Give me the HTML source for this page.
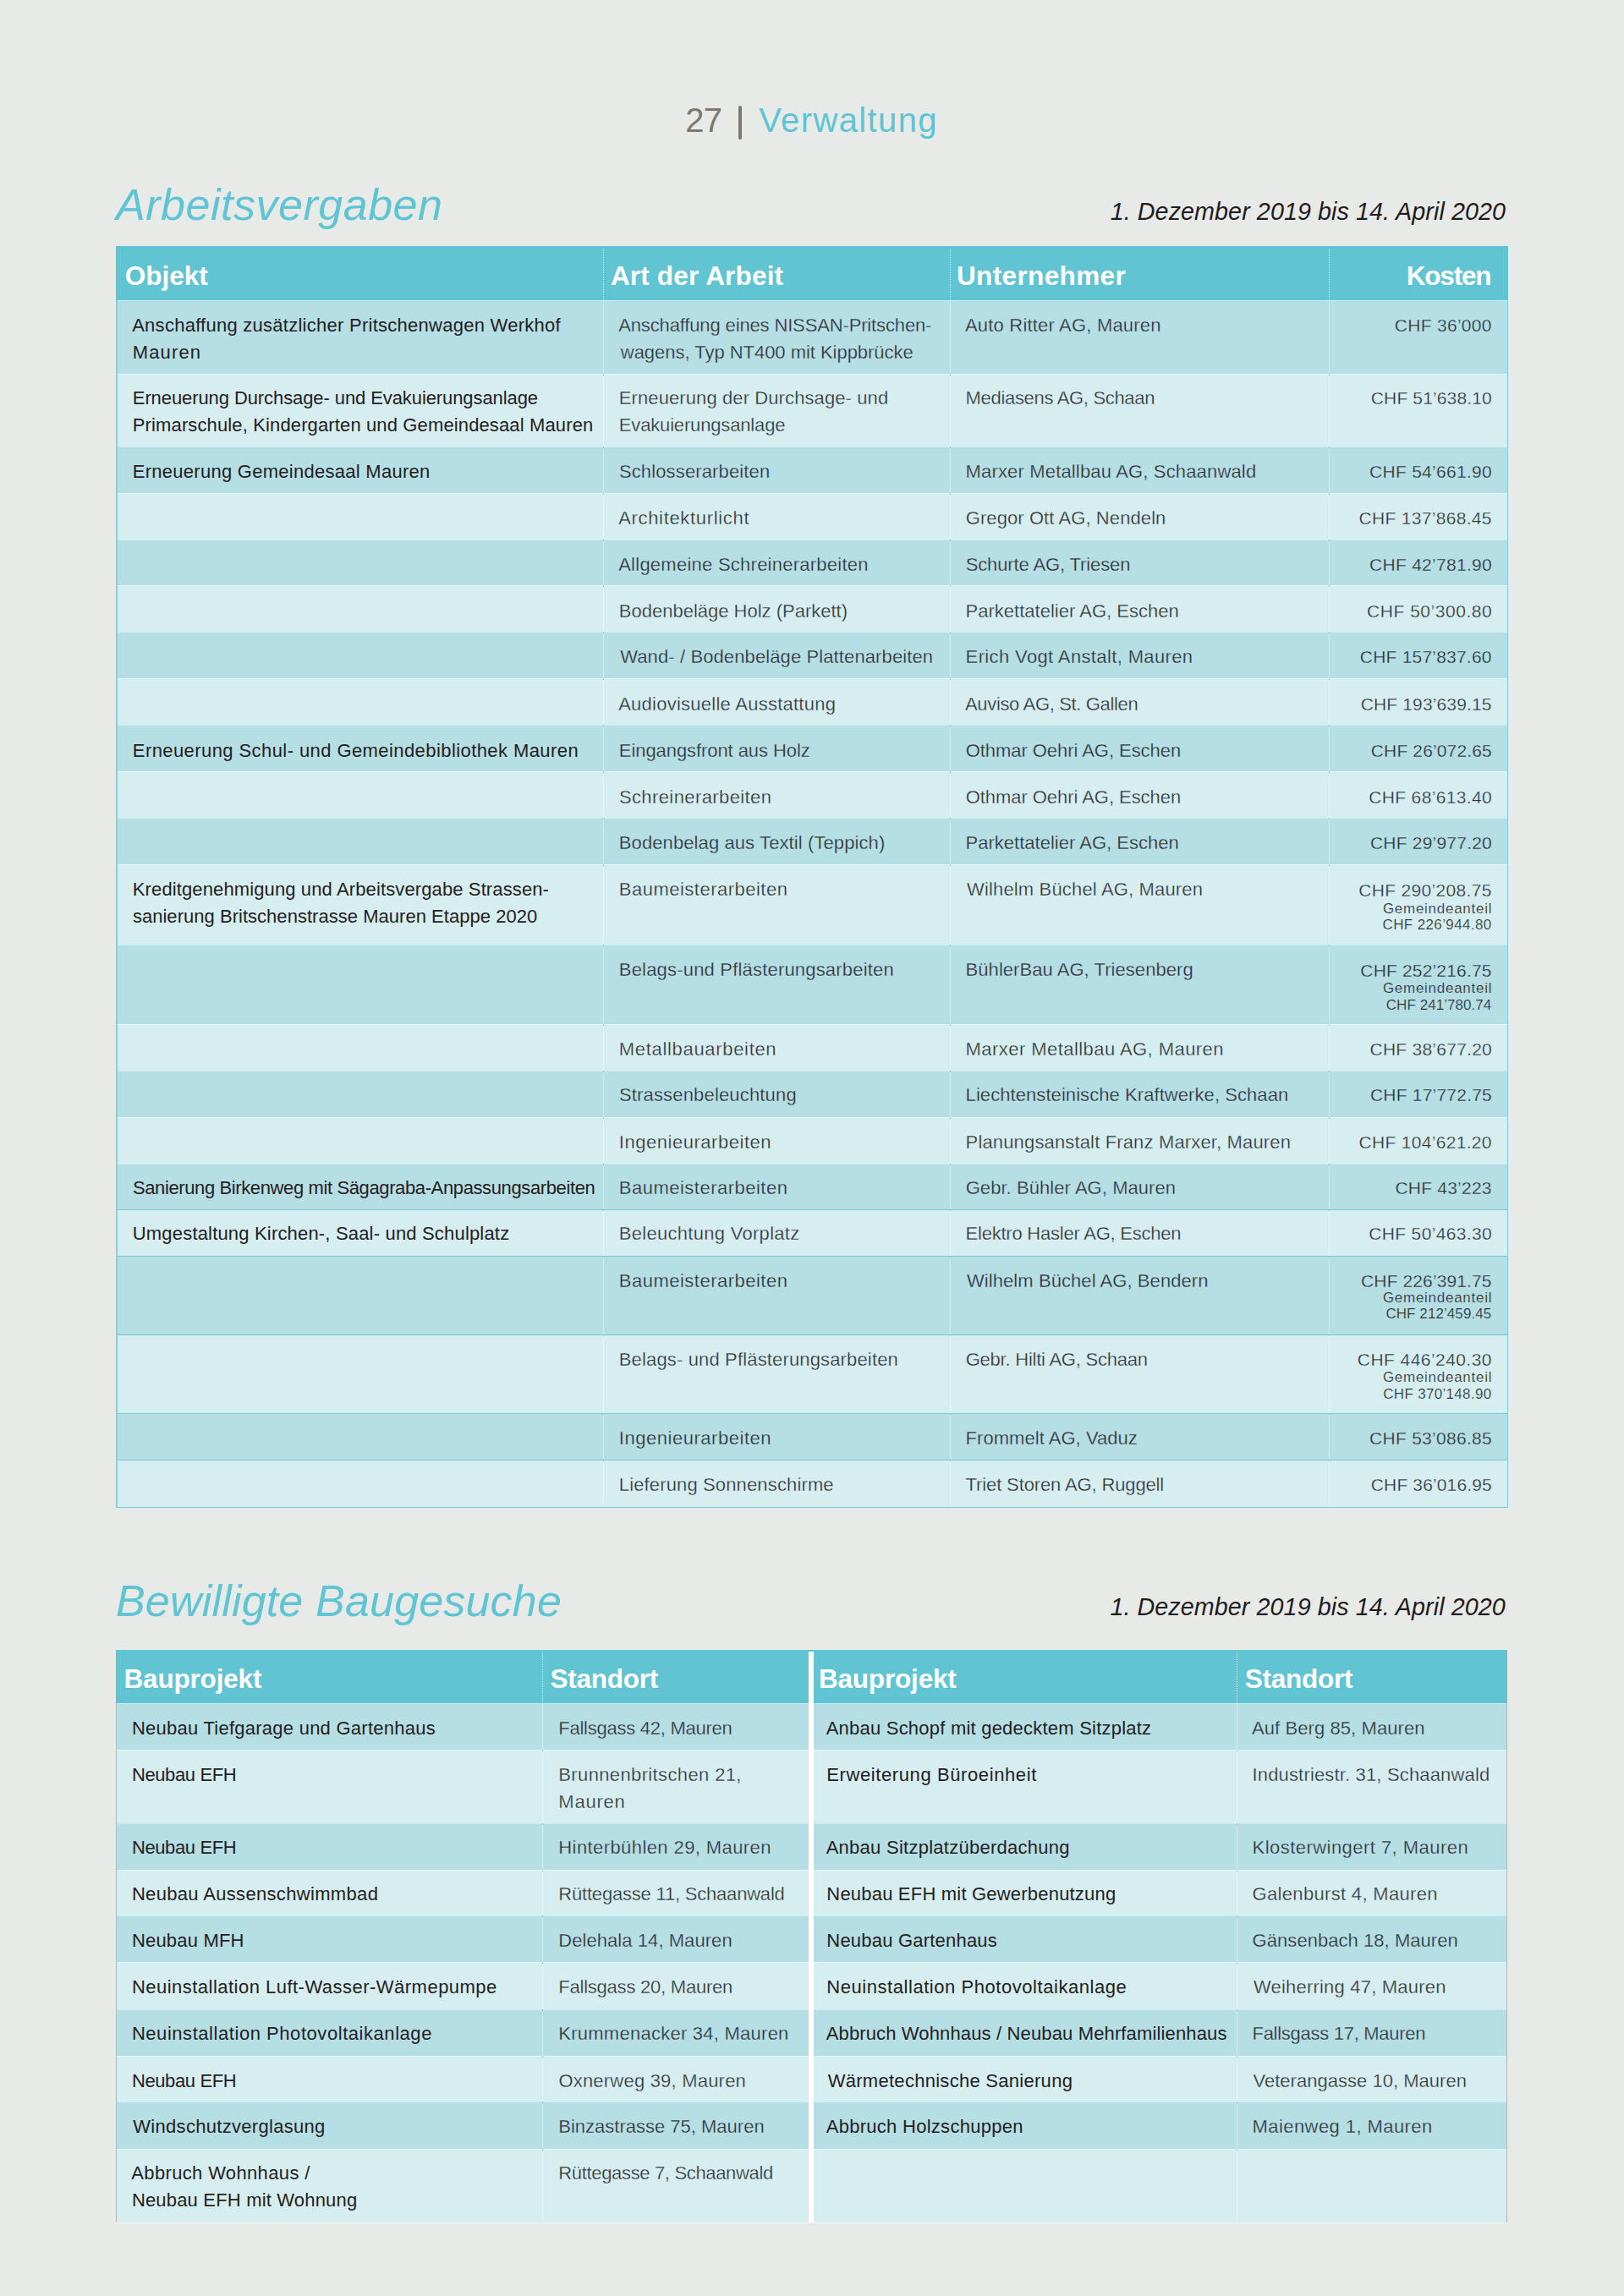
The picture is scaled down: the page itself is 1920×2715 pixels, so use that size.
<!DOCTYPE html>
<html lang="de"><head><meta charset="utf-8"><title>27 | Verwaltung</title>
<style>
html,body{margin:0;padding:0}
body{width:1920px;height:2715px;background:#e8eae7;position:relative;overflow:hidden;font-family:"Liberation Sans",sans-serif}
div,span,h1,h2,p,strong{position:absolute;display:block;white-space:nowrap;margin:0;padding:0;font-weight:normal}
strong{font-weight:bold}
</style></head><body>
<header>
<div style="left:873.3px;top:124.8px;width:4px;height:40.6px;background:#7d7873;border-radius:2px;"></div>
<span style="left:810.3px;top:118px;line-height:48px;font-size:40px;color:#7d7873;letter-spacing:-0.8px">27</span>
<h1 style="left:897.2px;top:118px;line-height:48px;font-size:40px;color:#5cc4d4;letter-spacing:1.39px">Verwaltung</h1>
</header>
<main>
<section aria-label="Arbeitsvergaben">
<div style="left:137px;top:291px;width:1646px;height:64px;background:#60c4d2;"></div>
<div style="left:137px;top:355px;width:1646px;height:87px;background:#b5dfe5;"></div>
<div style="left:137px;top:442px;width:1646px;height:86px;background:#d7eef0;"></div>
<div style="left:137px;top:528px;width:1646px;height:55px;background:#b5dfe5;"></div>
<div style="left:137px;top:583px;width:1646px;height:55px;background:#d7eef0;"></div>
<div style="left:137px;top:638px;width:1646px;height:54px;background:#b5dfe5;"></div>
<div style="left:137px;top:692px;width:1646px;height:55px;background:#d7eef0;"></div>
<div style="left:137px;top:747px;width:1646px;height:55px;background:#b5dfe5;"></div>
<div style="left:137px;top:802px;width:1646px;height:55px;background:#d7eef0;"></div>
<div style="left:137px;top:857px;width:1646px;height:55px;background:#b5dfe5;"></div>
<div style="left:137px;top:912px;width:1646px;height:55px;background:#d7eef0;"></div>
<div style="left:137px;top:967px;width:1646px;height:55px;background:#b5dfe5;"></div>
<div style="left:137px;top:1022px;width:1646px;height:95px;background:#d7eef0;"></div>
<div style="left:137px;top:1117px;width:1646px;height:94px;background:#b5dfe5;"></div>
<div style="left:137px;top:1211px;width:1646px;height:55px;background:#d7eef0;"></div>
<div style="left:137px;top:1266px;width:1646px;height:55px;background:#b5dfe5;"></div>
<div style="left:137px;top:1321px;width:1646px;height:55px;background:#d7eef0;"></div>
<div style="left:137px;top:1376px;width:1646px;height:54px;background:#b5dfe5;"></div>
<div style="left:137px;top:1430px;width:1646px;height:55px;background:#d7eef0;"></div>
<div style="left:137px;top:1485px;width:1646px;height:93px;background:#b5dfe5;"></div>
<div style="left:137px;top:1578px;width:1646px;height:93px;background:#d7eef0;"></div>
<div style="left:137px;top:1671px;width:1646px;height:55px;background:#b5dfe5;"></div>
<div style="left:137px;top:1726px;width:1646px;height:56px;background:#d7eef0;"></div>
<div style="left:137px;top:355px;width:1646px;height:1px;background:transparent;background:repeating-linear-gradient(90deg,rgba(255,255,255,.62) 0 1px,rgba(255,255,255,.18) 1px 2px);"></div>
<div style="left:137px;top:442px;width:1646px;height:1px;background:transparent;background:repeating-linear-gradient(90deg,rgba(255,255,255,.62) 0 1px,rgba(255,255,255,.18) 1px 2px);"></div>
<div style="left:137px;top:528px;width:1646px;height:1px;background:transparent;background:repeating-linear-gradient(90deg,rgba(255,255,255,.62) 0 1px,rgba(255,255,255,.18) 1px 2px);"></div>
<div style="left:137px;top:583px;width:1646px;height:1px;background:transparent;background:repeating-linear-gradient(90deg,rgba(255,255,255,.62) 0 1px,rgba(255,255,255,.18) 1px 2px);"></div>
<div style="left:137px;top:638px;width:1646px;height:1px;background:transparent;background:repeating-linear-gradient(90deg,rgba(255,255,255,.62) 0 1px,rgba(255,255,255,.18) 1px 2px);"></div>
<div style="left:137px;top:692px;width:1646px;height:1px;background:transparent;background:repeating-linear-gradient(90deg,rgba(255,255,255,.62) 0 1px,rgba(255,255,255,.18) 1px 2px);"></div>
<div style="left:137px;top:747px;width:1646px;height:1px;background:transparent;background:repeating-linear-gradient(90deg,rgba(255,255,255,.62) 0 1px,rgba(255,255,255,.18) 1px 2px);"></div>
<div style="left:137px;top:802px;width:1646px;height:1px;background:transparent;background:repeating-linear-gradient(90deg,rgba(255,255,255,.62) 0 1px,rgba(255,255,255,.18) 1px 2px);"></div>
<div style="left:137px;top:857px;width:1646px;height:1px;background:transparent;background:repeating-linear-gradient(90deg,rgba(255,255,255,.62) 0 1px,rgba(255,255,255,.18) 1px 2px);"></div>
<div style="left:137px;top:912px;width:1646px;height:1px;background:transparent;background:repeating-linear-gradient(90deg,rgba(255,255,255,.62) 0 1px,rgba(255,255,255,.18) 1px 2px);"></div>
<div style="left:137px;top:967px;width:1646px;height:1px;background:transparent;background:repeating-linear-gradient(90deg,rgba(255,255,255,.62) 0 1px,rgba(255,255,255,.18) 1px 2px);"></div>
<div style="left:137px;top:1022px;width:1646px;height:1px;background:transparent;background:repeating-linear-gradient(90deg,rgba(255,255,255,.62) 0 1px,rgba(255,255,255,.18) 1px 2px);"></div>
<div style="left:137px;top:1117px;width:1646px;height:1px;background:transparent;background:repeating-linear-gradient(90deg,rgba(255,255,255,.62) 0 1px,rgba(255,255,255,.18) 1px 2px);"></div>
<div style="left:137px;top:1211px;width:1646px;height:1px;background:transparent;background:repeating-linear-gradient(90deg,rgba(255,255,255,.62) 0 1px,rgba(255,255,255,.18) 1px 2px);"></div>
<div style="left:137px;top:1266px;width:1646px;height:1px;background:transparent;background:repeating-linear-gradient(90deg,rgba(255,255,255,.62) 0 1px,rgba(255,255,255,.18) 1px 2px);"></div>
<div style="left:137px;top:1321px;width:1646px;height:1px;background:transparent;background:repeating-linear-gradient(90deg,rgba(255,255,255,.62) 0 1px,rgba(255,255,255,.18) 1px 2px);"></div>
<div style="left:137px;top:1376px;width:1646px;height:1px;background:transparent;background:repeating-linear-gradient(90deg,rgba(255,255,255,.62) 0 1px,rgba(255,255,255,.18) 1px 2px);"></div>
<div style="left:137px;top:1430px;width:1646px;height:1px;background:#74cad5;"></div>
<div style="left:137px;top:1485px;width:1646px;height:1px;background:#74cad5;"></div>
<div style="left:137px;top:1578px;width:1646px;height:1px;background:#74cad5;"></div>
<div style="left:137px;top:1671px;width:1646px;height:1px;background:#74cad5;"></div>
<div style="left:137px;top:1726px;width:1646px;height:1px;background:#74cad5;"></div>
<div style="left:713px;top:294px;width:1px;height:1488px;background:transparent;background:repeating-linear-gradient(180deg,rgba(255,255,255,.6) 0 1px,rgba(255,255,255,.12) 1px 2px);"></div>
<div style="left:713px;top:441.5px;width:1px;height:2px;background:rgba(95,195,209,.75);"></div>
<div style="left:713px;top:527.5px;width:1px;height:2px;background:rgba(95,195,209,.75);"></div>
<div style="left:713px;top:582.5px;width:1px;height:2px;background:rgba(95,195,209,.75);"></div>
<div style="left:713px;top:637.5px;width:1px;height:2px;background:rgba(95,195,209,.75);"></div>
<div style="left:713px;top:691.5px;width:1px;height:2px;background:rgba(95,195,209,.75);"></div>
<div style="left:713px;top:746.5px;width:1px;height:2px;background:rgba(95,195,209,.75);"></div>
<div style="left:713px;top:801.5px;width:1px;height:2px;background:rgba(95,195,209,.75);"></div>
<div style="left:713px;top:856.5px;width:1px;height:2px;background:rgba(95,195,209,.75);"></div>
<div style="left:713px;top:911.5px;width:1px;height:2px;background:rgba(95,195,209,.75);"></div>
<div style="left:713px;top:966.5px;width:1px;height:2px;background:rgba(95,195,209,.75);"></div>
<div style="left:713px;top:1021.5px;width:1px;height:2px;background:rgba(95,195,209,.75);"></div>
<div style="left:713px;top:1116.5px;width:1px;height:2px;background:rgba(95,195,209,.75);"></div>
<div style="left:713px;top:1210.5px;width:1px;height:2px;background:rgba(95,195,209,.75);"></div>
<div style="left:713px;top:1265.5px;width:1px;height:2px;background:rgba(95,195,209,.75);"></div>
<div style="left:713px;top:1320.5px;width:1px;height:2px;background:rgba(95,195,209,.75);"></div>
<div style="left:713px;top:1375.5px;width:1px;height:2px;background:rgba(95,195,209,.75);"></div>
<div style="left:713px;top:1429.5px;width:1px;height:2px;background:rgba(95,195,209,.75);"></div>
<div style="left:713px;top:1484.5px;width:1px;height:2px;background:rgba(95,195,209,.75);"></div>
<div style="left:713px;top:1577.5px;width:1px;height:2px;background:rgba(95,195,209,.75);"></div>
<div style="left:713px;top:1670.5px;width:1px;height:2px;background:rgba(95,195,209,.75);"></div>
<div style="left:713px;top:1725.5px;width:1px;height:2px;background:rgba(95,195,209,.75);"></div>
<div style="left:1123px;top:294px;width:1px;height:1488px;background:transparent;background:repeating-linear-gradient(180deg,rgba(255,255,255,.6) 0 1px,rgba(255,255,255,.12) 1px 2px);"></div>
<div style="left:1123px;top:441.5px;width:1px;height:2px;background:rgba(95,195,209,.75);"></div>
<div style="left:1123px;top:527.5px;width:1px;height:2px;background:rgba(95,195,209,.75);"></div>
<div style="left:1123px;top:582.5px;width:1px;height:2px;background:rgba(95,195,209,.75);"></div>
<div style="left:1123px;top:637.5px;width:1px;height:2px;background:rgba(95,195,209,.75);"></div>
<div style="left:1123px;top:691.5px;width:1px;height:2px;background:rgba(95,195,209,.75);"></div>
<div style="left:1123px;top:746.5px;width:1px;height:2px;background:rgba(95,195,209,.75);"></div>
<div style="left:1123px;top:801.5px;width:1px;height:2px;background:rgba(95,195,209,.75);"></div>
<div style="left:1123px;top:856.5px;width:1px;height:2px;background:rgba(95,195,209,.75);"></div>
<div style="left:1123px;top:911.5px;width:1px;height:2px;background:rgba(95,195,209,.75);"></div>
<div style="left:1123px;top:966.5px;width:1px;height:2px;background:rgba(95,195,209,.75);"></div>
<div style="left:1123px;top:1021.5px;width:1px;height:2px;background:rgba(95,195,209,.75);"></div>
<div style="left:1123px;top:1116.5px;width:1px;height:2px;background:rgba(95,195,209,.75);"></div>
<div style="left:1123px;top:1210.5px;width:1px;height:2px;background:rgba(95,195,209,.75);"></div>
<div style="left:1123px;top:1265.5px;width:1px;height:2px;background:rgba(95,195,209,.75);"></div>
<div style="left:1123px;top:1320.5px;width:1px;height:2px;background:rgba(95,195,209,.75);"></div>
<div style="left:1123px;top:1375.5px;width:1px;height:2px;background:rgba(95,195,209,.75);"></div>
<div style="left:1123px;top:1429.5px;width:1px;height:2px;background:rgba(95,195,209,.75);"></div>
<div style="left:1123px;top:1484.5px;width:1px;height:2px;background:rgba(95,195,209,.75);"></div>
<div style="left:1123px;top:1577.5px;width:1px;height:2px;background:rgba(95,195,209,.75);"></div>
<div style="left:1123px;top:1670.5px;width:1px;height:2px;background:rgba(95,195,209,.75);"></div>
<div style="left:1123px;top:1725.5px;width:1px;height:2px;background:rgba(95,195,209,.75);"></div>
<div style="left:1571px;top:294px;width:1px;height:1488px;background:transparent;background:repeating-linear-gradient(180deg,rgba(255,255,255,.6) 0 1px,rgba(255,255,255,.12) 1px 2px);"></div>
<div style="left:1571px;top:441.5px;width:1px;height:2px;background:rgba(95,195,209,.75);"></div>
<div style="left:1571px;top:527.5px;width:1px;height:2px;background:rgba(95,195,209,.75);"></div>
<div style="left:1571px;top:582.5px;width:1px;height:2px;background:rgba(95,195,209,.75);"></div>
<div style="left:1571px;top:637.5px;width:1px;height:2px;background:rgba(95,195,209,.75);"></div>
<div style="left:1571px;top:691.5px;width:1px;height:2px;background:rgba(95,195,209,.75);"></div>
<div style="left:1571px;top:746.5px;width:1px;height:2px;background:rgba(95,195,209,.75);"></div>
<div style="left:1571px;top:801.5px;width:1px;height:2px;background:rgba(95,195,209,.75);"></div>
<div style="left:1571px;top:856.5px;width:1px;height:2px;background:rgba(95,195,209,.75);"></div>
<div style="left:1571px;top:911.5px;width:1px;height:2px;background:rgba(95,195,209,.75);"></div>
<div style="left:1571px;top:966.5px;width:1px;height:2px;background:rgba(95,195,209,.75);"></div>
<div style="left:1571px;top:1021.5px;width:1px;height:2px;background:rgba(95,195,209,.75);"></div>
<div style="left:1571px;top:1116.5px;width:1px;height:2px;background:rgba(95,195,209,.75);"></div>
<div style="left:1571px;top:1210.5px;width:1px;height:2px;background:rgba(95,195,209,.75);"></div>
<div style="left:1571px;top:1265.5px;width:1px;height:2px;background:rgba(95,195,209,.75);"></div>
<div style="left:1571px;top:1320.5px;width:1px;height:2px;background:rgba(95,195,209,.75);"></div>
<div style="left:1571px;top:1375.5px;width:1px;height:2px;background:rgba(95,195,209,.75);"></div>
<div style="left:1571px;top:1429.5px;width:1px;height:2px;background:rgba(95,195,209,.75);"></div>
<div style="left:1571px;top:1484.5px;width:1px;height:2px;background:rgba(95,195,209,.75);"></div>
<div style="left:1571px;top:1577.5px;width:1px;height:2px;background:rgba(95,195,209,.75);"></div>
<div style="left:1571px;top:1670.5px;width:1px;height:2px;background:rgba(95,195,209,.75);"></div>
<div style="left:1571px;top:1725.5px;width:1px;height:2px;background:rgba(95,195,209,.75);"></div>
<div style="left:137px;top:355px;width:1.5px;height:1427px;background:#86d0d8;"></div>
<div style="left:1782px;top:355px;width:1px;height:1427px;background:#7ccdd7;"></div>
<div style="left:137px;top:1782px;width:1646px;height:1px;background:#74cad5;"></div>
<h2 style="left:137.1px;top:211px;line-height:62px;font-size:52px;font-style:italic;color:#5fc4d3;letter-spacing:0.51px">Arbeitsvergaben</h2>
<p style="left:1312.7px;top:233px;line-height:34px;font-size:28.7px;font-style:italic;color:#1f1c1d;letter-spacing:0.08px">1. Dezember 2019 bis 14. April 2020</p>
<strong style="left:147.8px;top:307px;line-height:38px;font-size:31.5px;font-weight:bold;color:#fff;letter-spacing:-0.02px">Objekt</strong>
<strong style="left:721.9px;top:307px;line-height:38px;font-size:31.5px;font-weight:bold;color:#fff;letter-spacing:0.18px">Art der Arbeit</strong>
<strong style="left:1131.0px;top:307px;line-height:38px;font-size:31.5px;font-weight:bold;color:#fff;letter-spacing:0.36px">Unternehmer</strong>
<strong style="left:1662.8px;top:307px;line-height:38px;font-size:31.5px;font-weight:bold;color:#fff;letter-spacing:-1.22px">Kosten</strong>
<span style="left:156.2px;top:372px;line-height:26px;font-size:22px;color:#242021;letter-spacing:0.26px">Anschaffung zusätzlicher Pritschenwagen Werkhof</span>
<span style="left:156.8px;top:404px;line-height:26px;font-size:22px;color:#242021;letter-spacing:1.12px">Mauren</span>
<span style="-webkit-text-stroke:0.3px #b5dfe5;left:731.2px;top:372px;line-height:26px;font-size:22px;color:#2f2e30;letter-spacing:-0.14px">Anschaffung eines NISSAN-Pritschen-</span>
<span style="-webkit-text-stroke:0.3px #b5dfe5;left:733.8px;top:404px;line-height:26px;font-size:22px;color:#2f2e30;letter-spacing:-0.03px">wagens, Typ NT400 mit Kippbrücke</span>
<span style="-webkit-text-stroke:0.3px #b5dfe5;left:1141.0px;top:372px;line-height:26px;font-size:22px;color:#2f2e30;letter-spacing:0.19px">Auto Ritter AG, Mauren</span>
<span style="-webkit-text-stroke:0.3px #b5dfe5;left:1648.7px;top:372px;line-height:25px;font-size:21px;color:#2f2e30;letter-spacing:0.31px">CHF 36’000</span>
<span style="left:156.8px;top:458px;line-height:26px;font-size:22px;color:#242021;letter-spacing:-0.09px">Erneuerung Durchsage- und Evakuierungsanlage</span>
<span style="left:156.8px;top:490px;line-height:26px;font-size:22px;color:#242021;letter-spacing:0.13px">Primarschule, Kindergarten und Gemeindesaal Mauren</span>
<span style="-webkit-text-stroke:0.3px #d7eef0;left:731.8px;top:458px;line-height:26px;font-size:22px;color:#2f2e30;letter-spacing:0.1px">Erneuerung der Durchsage- und</span>
<span style="-webkit-text-stroke:0.3px #d7eef0;left:731.8px;top:490px;line-height:26px;font-size:22px;color:#2f2e30;letter-spacing:-0.16px">Evakuierungsanlage</span>
<span style="-webkit-text-stroke:0.3px #d7eef0;left:1141.6px;top:458px;line-height:26px;font-size:22px;color:#2f2e30;letter-spacing:-0.32px">Mediasens AG, Schaan</span>
<span style="-webkit-text-stroke:0.3px #d7eef0;left:1620.8px;top:458px;line-height:25px;font-size:21px;color:#2f2e30;letter-spacing:0.14px">CHF 51’638.10</span>
<span style="left:156.8px;top:545px;line-height:26px;font-size:22px;color:#242021;letter-spacing:0.27px">Erneuerung Gemeindesaal Mauren</span>
<span style="-webkit-text-stroke:0.3px #b5dfe5;left:731.9px;top:545px;line-height:26px;font-size:22px;color:#2f2e30;letter-spacing:0.14px">Schlosserarbeiten</span>
<span style="-webkit-text-stroke:0.3px #b5dfe5;left:1141.6px;top:545px;line-height:26px;font-size:22px;color:#2f2e30;letter-spacing:0.16px">Marxer Metallbau AG, Schaanwald</span>
<span style="-webkit-text-stroke:0.3px #b5dfe5;left:1619.0px;top:545px;line-height:25px;font-size:21px;color:#2f2e30;letter-spacing:0.29px">CHF 54’661.90</span>
<span style="-webkit-text-stroke:0.3px #d7eef0;left:731.2px;top:600px;line-height:26px;font-size:22px;color:#2f2e30;letter-spacing:0.67px">Architekturlicht</span>
<span style="-webkit-text-stroke:0.3px #d7eef0;left:1141.7px;top:600px;line-height:26px;font-size:22px;color:#2f2e30;letter-spacing:0.09px">Gregor Ott AG, Nendeln</span>
<span style="-webkit-text-stroke:0.3px #d7eef0;left:1606.5px;top:600px;line-height:25px;font-size:21px;color:#2f2e30;letter-spacing:0.31px">CHF 137’868.45</span>
<span style="-webkit-text-stroke:0.3px #b5dfe5;left:731.2px;top:655px;line-height:26px;font-size:22px;color:#2f2e30;letter-spacing:0.25px">Allgemeine Schreinerarbeiten</span>
<span style="-webkit-text-stroke:0.3px #b5dfe5;left:1141.7px;top:655px;line-height:26px;font-size:22px;color:#2f2e30;letter-spacing:-0.12px">Schurte AG, Triesen</span>
<span style="-webkit-text-stroke:0.3px #b5dfe5;left:1619.0px;top:655px;line-height:25px;font-size:21px;color:#2f2e30;letter-spacing:0.29px">CHF 42’781.90</span>
<span style="-webkit-text-stroke:0.3px #d7eef0;left:731.8px;top:710px;line-height:26px;font-size:22px;color:#2f2e30;letter-spacing:0.0px">Bodenbeläge Holz (Parkett)</span>
<span style="-webkit-text-stroke:0.3px #d7eef0;left:1141.6px;top:710px;line-height:26px;font-size:22px;color:#2f2e30;letter-spacing:0.01px">Parkettatelier AG, Eschen</span>
<span style="-webkit-text-stroke:0.3px #d7eef0;left:1616.0px;top:710px;line-height:25px;font-size:21px;color:#2f2e30;letter-spacing:0.54px">CHF 50’300.80</span>
<span style="-webkit-text-stroke:0.3px #b5dfe5;left:733.2px;top:764px;line-height:26px;font-size:22px;color:#2f2e30;letter-spacing:0.11px">Wand- / Bodenbeläge Plattenarbeiten</span>
<span style="-webkit-text-stroke:0.3px #b5dfe5;left:1141.6px;top:764px;line-height:26px;font-size:22px;color:#2f2e30;letter-spacing:0.37px">Erich Vogt Anstalt, Mauren</span>
<span style="-webkit-text-stroke:0.3px #b5dfe5;left:1607.8px;top:764px;line-height:25px;font-size:21px;color:#2f2e30;letter-spacing:0.21px">CHF 157’837.60</span>
<span style="-webkit-text-stroke:0.3px #d7eef0;left:731.2px;top:820px;line-height:26px;font-size:22px;color:#2f2e30;letter-spacing:0.25px">Audiovisuelle Ausstattung</span>
<span style="-webkit-text-stroke:0.3px #d7eef0;left:1141.0px;top:820px;line-height:26px;font-size:22px;color:#2f2e30;letter-spacing:-0.34px">Auviso AG, St. Gallen</span>
<span style="-webkit-text-stroke:0.3px #d7eef0;left:1608.7px;top:820px;line-height:25px;font-size:21px;color:#2f2e30;letter-spacing:0.14px">CHF 193’639.15</span>
<span style="left:156.8px;top:875px;line-height:26px;font-size:22px;color:#242021;letter-spacing:0.42px">Erneuerung Schul- und Gemeindebibliothek Mauren</span>
<span style="-webkit-text-stroke:0.3px #b5dfe5;left:731.8px;top:875px;line-height:26px;font-size:22px;color:#2f2e30;letter-spacing:-0.07px">Eingangsfront aus Holz</span>
<span style="-webkit-text-stroke:0.3px #b5dfe5;left:1141.7px;top:875px;line-height:26px;font-size:22px;color:#2f2e30;letter-spacing:-0.05px">Othmar Oehri AG, Eschen</span>
<span style="-webkit-text-stroke:0.3px #b5dfe5;left:1620.8px;top:875px;line-height:25px;font-size:21px;color:#2f2e30;letter-spacing:0.14px">CHF 26’072.65</span>
<span style="-webkit-text-stroke:0.3px #d7eef0;left:731.9px;top:930px;line-height:26px;font-size:22px;color:#2f2e30;letter-spacing:0.4px">Schreinerarbeiten</span>
<span style="-webkit-text-stroke:0.3px #d7eef0;left:1141.7px;top:930px;line-height:26px;font-size:22px;color:#2f2e30;letter-spacing:-0.05px">Othmar Oehri AG, Eschen</span>
<span style="-webkit-text-stroke:0.3px #d7eef0;left:1618.2px;top:930px;line-height:25px;font-size:21px;color:#2f2e30;letter-spacing:0.36px">CHF 68’613.40</span>
<span style="-webkit-text-stroke:0.3px #b5dfe5;left:731.8px;top:984px;line-height:26px;font-size:22px;color:#2f2e30;letter-spacing:0.1px">Bodenbelag aus Textil (Teppich)</span>
<span style="-webkit-text-stroke:0.3px #b5dfe5;left:1141.6px;top:984px;line-height:26px;font-size:22px;color:#2f2e30;letter-spacing:0.01px">Parkettatelier AG, Eschen</span>
<span style="-webkit-text-stroke:0.3px #b5dfe5;left:1619.9px;top:984px;line-height:25px;font-size:21px;color:#2f2e30;letter-spacing:0.22px">CHF 29’977.20</span>
<span style="left:156.8px;top:1039px;line-height:26px;font-size:22px;color:#242021;letter-spacing:0.12px">Kreditgenehmigung und Arbeitsvergabe Strassen-</span>
<span style="left:156.9px;top:1071px;line-height:26px;font-size:22px;color:#242021;letter-spacing:0.03px">sanierung Britschenstrasse Mauren Etappe 2020</span>
<span style="-webkit-text-stroke:0.3px #d7eef0;left:731.8px;top:1039px;line-height:26px;font-size:22px;color:#2f2e30;letter-spacing:0.49px">Baumeisterarbeiten</span>
<span style="-webkit-text-stroke:0.3px #d7eef0;left:1143.0px;top:1039px;line-height:26px;font-size:22px;color:#2f2e30;letter-spacing:0.16px">Wilhelm Büchel AG, Mauren</span>
<span style="-webkit-text-stroke:0.3px #d7eef0;left:1606.3px;top:1040px;line-height:25px;font-size:21px;color:#2f2e30;letter-spacing:0.32px">CHF 290’208.75</span>
<span style="-webkit-text-stroke:0.22px #d7eef0;left:1634.9px;top:1065px;line-height:20px;font-size:17px;color:#2f2e30;letter-spacing:0.73px">Gemeindeanteil</span>
<span style="-webkit-text-stroke:0.22px #d7eef0;left:1634.5px;top:1084px;line-height:20px;font-size:17px;color:#2f2e30;letter-spacing:0.38px">CHF 226’944.80</span>
<span style="-webkit-text-stroke:0.3px #b5dfe5;left:731.8px;top:1134px;line-height:26px;font-size:22px;color:#2f2e30;letter-spacing:0.19px">Belags-und Pflästerungsarbeiten</span>
<span style="-webkit-text-stroke:0.3px #b5dfe5;left:1141.6px;top:1134px;line-height:26px;font-size:22px;color:#2f2e30;letter-spacing:0.05px">BühlerBau AG, Triesenberg</span>
<span style="-webkit-text-stroke:0.3px #b5dfe5;left:1608.3px;top:1135px;line-height:25px;font-size:21px;color:#2f2e30;letter-spacing:0.17px">CHF 252’216.75</span>
<span style="-webkit-text-stroke:0.22px #b5dfe5;left:1634.9px;top:1159px;line-height:20px;font-size:17px;color:#2f2e30;letter-spacing:0.73px">Gemeindeanteil</span>
<span style="-webkit-text-stroke:0.22px #b5dfe5;left:1638.8px;top:1179px;line-height:20px;font-size:17px;color:#2f2e30;letter-spacing:0.05px">CHF 241’780.74</span>
<span style="-webkit-text-stroke:0.3px #d7eef0;left:731.8px;top:1228px;line-height:26px;font-size:22px;color:#2f2e30;letter-spacing:0.68px">Metallbauarbeiten</span>
<span style="-webkit-text-stroke:0.3px #d7eef0;left:1141.6px;top:1228px;line-height:26px;font-size:22px;color:#2f2e30;letter-spacing:0.44px">Marxer Metallbau AG, Mauren</span>
<span style="-webkit-text-stroke:0.3px #d7eef0;left:1619.5px;top:1228px;line-height:25px;font-size:21px;color:#2f2e30;letter-spacing:0.25px">CHF 38’677.20</span>
<span style="-webkit-text-stroke:0.3px #b5dfe5;left:731.9px;top:1282px;line-height:26px;font-size:22px;color:#2f2e30;letter-spacing:0.17px">Strassenbeleuchtung</span>
<span style="-webkit-text-stroke:0.3px #b5dfe5;left:1141.6px;top:1282px;line-height:26px;font-size:22px;color:#2f2e30;letter-spacing:0.07px">Liechtensteinische Kraftwerke, Schaan</span>
<span style="-webkit-text-stroke:0.3px #b5dfe5;left:1619.9px;top:1282px;line-height:25px;font-size:21px;color:#2f2e30;letter-spacing:0.22px">CHF 17’772.75</span>
<span style="-webkit-text-stroke:0.3px #d7eef0;left:731.8px;top:1338px;line-height:26px;font-size:22px;color:#2f2e30;letter-spacing:0.53px">Ingenieurarbeiten</span>
<span style="-webkit-text-stroke:0.3px #d7eef0;left:1141.6px;top:1338px;line-height:26px;font-size:22px;color:#2f2e30;letter-spacing:0.15px">Planungsanstalt Franz Marxer, Mauren</span>
<span style="-webkit-text-stroke:0.3px #d7eef0;left:1606.6px;top:1338px;line-height:25px;font-size:21px;color:#2f2e30;letter-spacing:0.3px">CHF 104’621.20</span>
<span style="left:156.9px;top:1392px;line-height:26px;font-size:22px;color:#242021;letter-spacing:-0.38px">Sanierung Birkenweg mit Sägagraba-Anpassungsarbeiten</span>
<span style="-webkit-text-stroke:0.3px #b5dfe5;left:731.8px;top:1392px;line-height:26px;font-size:22px;color:#2f2e30;letter-spacing:0.49px">Baumeisterarbeiten</span>
<span style="-webkit-text-stroke:0.3px #b5dfe5;left:1141.7px;top:1392px;line-height:26px;font-size:22px;color:#2f2e30;letter-spacing:0.06px">Gebr. Bühler AG, Mauren</span>
<span style="-webkit-text-stroke:0.3px #b5dfe5;left:1649.4px;top:1392px;line-height:25px;font-size:21px;color:#2f2e30;letter-spacing:0.23px">CHF 43’223</span>
<span style="left:156.8px;top:1446px;line-height:26px;font-size:22px;color:#242021;letter-spacing:0.18px">Umgestaltung Kirchen-, Saal- und Schulplatz</span>
<span style="-webkit-text-stroke:0.3px #d7eef0;left:731.8px;top:1446px;line-height:26px;font-size:22px;color:#2f2e30;letter-spacing:0.29px">Beleuchtung Vorplatz</span>
<span style="-webkit-text-stroke:0.3px #d7eef0;left:1141.6px;top:1446px;line-height:26px;font-size:22px;color:#2f2e30;letter-spacing:-0.23px">Elektro Hasler AG, Eschen</span>
<span style="-webkit-text-stroke:0.3px #d7eef0;left:1618.2px;top:1446px;line-height:25px;font-size:21px;color:#2f2e30;letter-spacing:0.36px">CHF 50’463.30</span>
<span style="-webkit-text-stroke:0.3px #b5dfe5;left:731.8px;top:1502px;line-height:26px;font-size:22px;color:#2f2e30;letter-spacing:0.49px">Baumeisterarbeiten</span>
<span style="-webkit-text-stroke:0.3px #b5dfe5;left:1143.0px;top:1502px;line-height:26px;font-size:22px;color:#2f2e30;letter-spacing:0.07px">Wilhelm Büchel AG, Bendern</span>
<span style="-webkit-text-stroke:0.3px #b5dfe5;left:1609.1px;top:1502px;line-height:25px;font-size:21px;color:#2f2e30;letter-spacing:0.11px">CHF 226’391.75</span>
<span style="-webkit-text-stroke:0.22px #b5dfe5;left:1634.9px;top:1525px;line-height:20px;font-size:17px;color:#2f2e30;letter-spacing:0.73px">Gemeindeanteil</span>
<span style="-webkit-text-stroke:0.22px #b5dfe5;left:1638.4px;top:1544px;line-height:20px;font-size:17px;color:#2f2e30;letter-spacing:0.08px">CHF 212’459.45</span>
<span style="-webkit-text-stroke:0.3px #d7eef0;left:731.8px;top:1595px;line-height:26px;font-size:22px;color:#2f2e30;letter-spacing:0.15px">Belags- und Pflästerungsarbeiten</span>
<span style="-webkit-text-stroke:0.3px #d7eef0;left:1141.7px;top:1595px;line-height:26px;font-size:22px;color:#2f2e30;letter-spacing:-0.23px">Gebr. Hilti AG, Schaan</span>
<span style="-webkit-text-stroke:0.3px #d7eef0;left:1604.8px;top:1595px;line-height:25px;font-size:21px;color:#2f2e30;letter-spacing:0.44px">CHF 446’240.30</span>
<span style="-webkit-text-stroke:0.22px #d7eef0;left:1634.9px;top:1619px;line-height:20px;font-size:17px;color:#2f2e30;letter-spacing:0.73px">Gemeindeanteil</span>
<span style="-webkit-text-stroke:0.22px #d7eef0;left:1635.2px;top:1639px;line-height:20px;font-size:17px;color:#2f2e30;letter-spacing:0.32px">CHF 370’148.90</span>
<span style="-webkit-text-stroke:0.3px #b5dfe5;left:731.8px;top:1688px;line-height:26px;font-size:22px;color:#2f2e30;letter-spacing:0.53px">Ingenieurarbeiten</span>
<span style="-webkit-text-stroke:0.3px #b5dfe5;left:1141.6px;top:1688px;line-height:26px;font-size:22px;color:#2f2e30;letter-spacing:0.04px">Frommelt AG, Vaduz</span>
<span style="-webkit-text-stroke:0.3px #b5dfe5;left:1619.0px;top:1688px;line-height:25px;font-size:21px;color:#2f2e30;letter-spacing:0.29px">CHF 53’086.85</span>
<span style="-webkit-text-stroke:0.3px #d7eef0;left:731.8px;top:1743px;line-height:26px;font-size:22px;color:#2f2e30;letter-spacing:0.14px">Lieferung Sonnenschirme</span>
<span style="-webkit-text-stroke:0.3px #d7eef0;left:1141.6px;top:1743px;line-height:26px;font-size:22px;color:#2f2e30;letter-spacing:-0.13px">Triet Storen AG, Ruggell</span>
<span style="-webkit-text-stroke:0.3px #d7eef0;left:1620.8px;top:1743px;line-height:25px;font-size:21px;color:#2f2e30;letter-spacing:0.14px">CHF 36’016.95</span>
</section>
<section aria-label="Bewilligte Baugesuche">
<div style="left:137px;top:1951px;width:1645px;height:63px;background:#60c4d2;"></div>
<div style="left:137px;top:2014px;width:1645px;height:55px;background:#b5dfe5;"></div>
<div style="left:137px;top:2069px;width:1645px;height:87px;background:#d7eef0;"></div>
<div style="left:137px;top:2156px;width:1645px;height:55px;background:#b5dfe5;"></div>
<div style="left:137px;top:2211px;width:1645px;height:54px;background:#d7eef0;"></div>
<div style="left:137px;top:2265px;width:1645px;height:55px;background:#b5dfe5;"></div>
<div style="left:137px;top:2320px;width:1645px;height:56px;background:#d7eef0;"></div>
<div style="left:137px;top:2376px;width:1645px;height:55px;background:#b5dfe5;"></div>
<div style="left:137px;top:2431px;width:1645px;height:54px;background:#d7eef0;"></div>
<div style="left:137px;top:2485px;width:1645px;height:56px;background:#b5dfe5;"></div>
<div style="left:137px;top:2541px;width:1645px;height:87px;background:#d7eef0;"></div>
<div style="left:137px;top:2014px;width:1645px;height:1px;background:transparent;background:repeating-linear-gradient(90deg,rgba(255,255,255,.62) 0 1px,rgba(255,255,255,.18) 1px 2px);"></div>
<div style="left:137px;top:2069px;width:1645px;height:1px;background:transparent;background:repeating-linear-gradient(90deg,rgba(255,255,255,.62) 0 1px,rgba(255,255,255,.18) 1px 2px);"></div>
<div style="left:137px;top:2156px;width:1645px;height:1px;background:transparent;background:repeating-linear-gradient(90deg,rgba(255,255,255,.62) 0 1px,rgba(255,255,255,.18) 1px 2px);"></div>
<div style="left:137px;top:2211px;width:1645px;height:1px;background:transparent;background:repeating-linear-gradient(90deg,rgba(255,255,255,.62) 0 1px,rgba(255,255,255,.18) 1px 2px);"></div>
<div style="left:137px;top:2265px;width:1645px;height:1px;background:transparent;background:repeating-linear-gradient(90deg,rgba(255,255,255,.62) 0 1px,rgba(255,255,255,.18) 1px 2px);"></div>
<div style="left:137px;top:2320px;width:1645px;height:1px;background:transparent;background:repeating-linear-gradient(90deg,rgba(255,255,255,.62) 0 1px,rgba(255,255,255,.18) 1px 2px);"></div>
<div style="left:137px;top:2376px;width:1645px;height:1px;background:transparent;background:repeating-linear-gradient(90deg,rgba(255,255,255,.62) 0 1px,rgba(255,255,255,.18) 1px 2px);"></div>
<div style="left:137px;top:2431px;width:1645px;height:1px;background:transparent;background:repeating-linear-gradient(90deg,rgba(255,255,255,.62) 0 1px,rgba(255,255,255,.18) 1px 2px);"></div>
<div style="left:137px;top:2485px;width:1645px;height:1px;background:transparent;background:repeating-linear-gradient(90deg,rgba(255,255,255,.62) 0 1px,rgba(255,255,255,.18) 1px 2px);"></div>
<div style="left:137px;top:2541px;width:1645px;height:1px;background:transparent;background:repeating-linear-gradient(90deg,rgba(255,255,255,.62) 0 1px,rgba(255,255,255,.18) 1px 2px);"></div>
<div style="left:137px;top:2628px;width:1645px;height:1px;background:transparent;background:repeating-linear-gradient(90deg,rgba(255,255,255,.62) 0 1px,rgba(255,255,255,.18) 1px 2px);"></div>
<div style="left:641px;top:1954px;width:1px;height:674px;background:transparent;background:repeating-linear-gradient(180deg,rgba(255,255,255,.6) 0 1px,rgba(255,255,255,.12) 1px 2px);"></div>
<div style="left:641px;top:2068.5px;width:1px;height:2px;background:rgba(95,195,209,.75);"></div>
<div style="left:641px;top:2155.5px;width:1px;height:2px;background:rgba(95,195,209,.75);"></div>
<div style="left:641px;top:2210.5px;width:1px;height:2px;background:rgba(95,195,209,.75);"></div>
<div style="left:641px;top:2264.5px;width:1px;height:2px;background:rgba(95,195,209,.75);"></div>
<div style="left:641px;top:2319.5px;width:1px;height:2px;background:rgba(95,195,209,.75);"></div>
<div style="left:641px;top:2375.5px;width:1px;height:2px;background:rgba(95,195,209,.75);"></div>
<div style="left:641px;top:2430.5px;width:1px;height:2px;background:rgba(95,195,209,.75);"></div>
<div style="left:641px;top:2484.5px;width:1px;height:2px;background:rgba(95,195,209,.75);"></div>
<div style="left:641px;top:2540.5px;width:1px;height:2px;background:rgba(95,195,209,.75);"></div>
<div style="left:1462px;top:1954px;width:1px;height:674px;background:transparent;background:repeating-linear-gradient(180deg,rgba(255,255,255,.6) 0 1px,rgba(255,255,255,.12) 1px 2px);"></div>
<div style="left:1462px;top:2068.5px;width:1px;height:2px;background:rgba(95,195,209,.75);"></div>
<div style="left:1462px;top:2155.5px;width:1px;height:2px;background:rgba(95,195,209,.75);"></div>
<div style="left:1462px;top:2210.5px;width:1px;height:2px;background:rgba(95,195,209,.75);"></div>
<div style="left:1462px;top:2264.5px;width:1px;height:2px;background:rgba(95,195,209,.75);"></div>
<div style="left:1462px;top:2319.5px;width:1px;height:2px;background:rgba(95,195,209,.75);"></div>
<div style="left:1462px;top:2375.5px;width:1px;height:2px;background:rgba(95,195,209,.75);"></div>
<div style="left:1462px;top:2430.5px;width:1px;height:2px;background:rgba(95,195,209,.75);"></div>
<div style="left:1462px;top:2484.5px;width:1px;height:2px;background:rgba(95,195,209,.75);"></div>
<div style="left:1462px;top:2540.5px;width:1px;height:2px;background:rgba(95,195,209,.75);"></div>
<div style="left:137px;top:2014px;width:1px;height:614px;background:#7ccdd7;"></div>
<div style="left:1781px;top:2014px;width:1px;height:614px;background:#7ccdd7;"></div>
<div style="left:955.5px;top:1953px;width:6.5px;height:675px;background:#fff;"></div>
<h2 style="left:137.0px;top:1862px;line-height:62px;font-size:52px;font-style:italic;color:#5fc4d3;letter-spacing:0.18px">Bewilligte Baugesuche</h2>
<p style="left:1312.4px;top:1883px;line-height:34px;font-size:28.7px;font-style:italic;color:#1f1c1d;letter-spacing:0.08px">1. Dezember 2019 bis 14. April 2020</p>
<strong style="left:146.5px;top:1966px;line-height:38px;font-size:31.5px;font-weight:bold;color:#fff;letter-spacing:-0.18px">Bauprojekt</strong>
<strong style="left:650.5px;top:1966px;line-height:38px;font-size:31.5px;font-weight:bold;color:#fff;letter-spacing:-0.24px">Standort</strong>
<strong style="left:967.9px;top:1966px;line-height:38px;font-size:31.5px;font-weight:bold;color:#fff;letter-spacing:-0.18px">Bauprojekt</strong>
<strong style="left:1471.8px;top:1966px;line-height:38px;font-size:31.5px;font-weight:bold;color:#fff;letter-spacing:-0.24px">Standort</strong>
<span style="left:155.9px;top:2031px;line-height:26px;font-size:22px;color:#242021;letter-spacing:0.25px">Neubau Tiefgarage und Gartenhaus</span>
<span style="-webkit-text-stroke:0.3px #b5dfe5;left:660.3px;top:2031px;line-height:26px;font-size:22px;color:#2f2e30;letter-spacing:-0.26px">Fallsgass 42, Mauren</span>
<span style="left:976.7px;top:2031px;line-height:26px;font-size:22px;color:#242021;letter-spacing:0.22px">Anbau Schopf mit gedecktem Sitzplatz</span>
<span style="-webkit-text-stroke:0.3px #b5dfe5;left:1479.9px;top:2031px;line-height:26px;font-size:22px;color:#2f2e30;letter-spacing:0.09px">Auf Berg 85, Mauren</span>
<span style="left:155.9px;top:2086px;line-height:26px;font-size:22px;color:#242021;letter-spacing:-0.38px">Neubau EFH</span>
<span style="-webkit-text-stroke:0.3px #d7eef0;left:660.3px;top:2086px;line-height:26px;font-size:22px;color:#2f2e30;letter-spacing:0.37px">Brunnenbritschen 21,</span>
<span style="-webkit-text-stroke:0.3px #d7eef0;left:660.3px;top:2118px;line-height:26px;font-size:22px;color:#2f2e30;letter-spacing:0.78px">Mauren</span>
<span style="left:977.3px;top:2086px;line-height:26px;font-size:22px;color:#242021;letter-spacing:0.6px">Erweiterung Büroeinheit</span>
<span style="-webkit-text-stroke:0.3px #d7eef0;left:1480.5px;top:2086px;line-height:26px;font-size:22px;color:#2f2e30;letter-spacing:0.16px">Industriestr. 31, Schaanwald</span>
<span style="left:155.9px;top:2172px;line-height:26px;font-size:22px;color:#242021;letter-spacing:-0.38px">Neubau EFH</span>
<span style="-webkit-text-stroke:0.3px #b5dfe5;left:660.3px;top:2172px;line-height:26px;font-size:22px;color:#2f2e30;letter-spacing:0.41px">Hinterbühlen 29, Mauren</span>
<span style="left:976.7px;top:2172px;line-height:26px;font-size:22px;color:#242021;letter-spacing:0.26px">Anbau Sitzplatzüberdachung</span>
<span style="-webkit-text-stroke:0.3px #b5dfe5;left:1480.5px;top:2172px;line-height:26px;font-size:22px;color:#2f2e30;letter-spacing:0.46px">Klosterwingert 7, Mauren</span>
<span style="left:155.9px;top:2227px;line-height:26px;font-size:22px;color:#242021;letter-spacing:0.33px">Neubau Aussenschwimmbad</span>
<span style="-webkit-text-stroke:0.3px #d7eef0;left:660.3px;top:2227px;line-height:26px;font-size:22px;color:#2f2e30;letter-spacing:-0.2px">Rüttegasse 11, Schaanwald</span>
<span style="left:977.3px;top:2227px;line-height:26px;font-size:22px;color:#242021;letter-spacing:0.2px">Neubau EFH mit Gewerbenutzung</span>
<span style="-webkit-text-stroke:0.3px #d7eef0;left:1480.6px;top:2227px;line-height:26px;font-size:22px;color:#2f2e30;letter-spacing:0.32px">Galenburst 4, Mauren</span>
<span style="left:155.9px;top:2282px;line-height:26px;font-size:22px;color:#242021;letter-spacing:0.19px">Neubau MFH</span>
<span style="-webkit-text-stroke:0.3px #b5dfe5;left:660.3px;top:2282px;line-height:26px;font-size:22px;color:#2f2e30;letter-spacing:0.06px">Delehala 14, Mauren</span>
<span style="left:977.3px;top:2282px;line-height:26px;font-size:22px;color:#242021;letter-spacing:0.21px">Neubau Gartenhaus</span>
<span style="-webkit-text-stroke:0.3px #b5dfe5;left:1480.6px;top:2282px;line-height:26px;font-size:22px;color:#2f2e30;letter-spacing:0.05px">Gänsenbach 18, Mauren</span>
<span style="left:155.9px;top:2337px;line-height:26px;font-size:22px;color:#242021;letter-spacing:0.48px">Neuinstallation Luft-Wasser-Wärmepumpe</span>
<span style="-webkit-text-stroke:0.3px #d7eef0;left:660.3px;top:2337px;line-height:26px;font-size:22px;color:#2f2e30;letter-spacing:-0.23px">Fallsgass 20, Mauren</span>
<span style="left:977.3px;top:2337px;line-height:26px;font-size:22px;color:#242021;letter-spacing:0.55px">Neuinstallation Photovoltaikanlage</span>
<span style="-webkit-text-stroke:0.3px #d7eef0;left:1481.9px;top:2337px;line-height:26px;font-size:22px;color:#2f2e30;letter-spacing:0.21px">Weiherring 47, Mauren</span>
<span style="left:155.9px;top:2392px;line-height:26px;font-size:22px;color:#242021;letter-spacing:0.55px">Neuinstallation Photovoltaikanlage</span>
<span style="-webkit-text-stroke:0.3px #b5dfe5;left:660.3px;top:2392px;line-height:26px;font-size:22px;color:#2f2e30;letter-spacing:0.25px">Krummenacker 34, Mauren</span>
<span style="left:976.7px;top:2392px;line-height:26px;font-size:22px;color:#242021;letter-spacing:0.14px">Abbruch Wohnhaus / Neubau Mehrfamilienhaus</span>
<span style="-webkit-text-stroke:0.3px #b5dfe5;left:1480.5px;top:2392px;line-height:26px;font-size:22px;color:#2f2e30;letter-spacing:-0.28px">Fallsgass 17, Mauren</span>
<span style="left:155.9px;top:2448px;line-height:26px;font-size:22px;color:#242021;letter-spacing:-0.38px">Neubau EFH</span>
<span style="-webkit-text-stroke:0.3px #d7eef0;left:660.4px;top:2448px;line-height:26px;font-size:22px;color:#2f2e30;letter-spacing:0.21px">Oxnerweg 39, Mauren</span>
<span style="left:978.7px;top:2448px;line-height:26px;font-size:22px;color:#242021;letter-spacing:0.28px">Wärmetechnische Sanierung</span>
<span style="-webkit-text-stroke:0.3px #d7eef0;left:1481.5px;top:2448px;line-height:26px;font-size:22px;color:#2f2e30;letter-spacing:0.02px">Veterangasse 10, Mauren</span>
<span style="left:157.3px;top:2502px;line-height:26px;font-size:22px;color:#242021;letter-spacing:0.3px">Windschutzverglasung</span>
<span style="-webkit-text-stroke:0.3px #b5dfe5;left:660.3px;top:2502px;line-height:26px;font-size:22px;color:#2f2e30;letter-spacing:0.0px">Binzastrasse 75, Mauren</span>
<span style="left:976.7px;top:2502px;line-height:26px;font-size:22px;color:#242021;letter-spacing:0.28px">Abbruch Holzschuppen</span>
<span style="-webkit-text-stroke:0.3px #b5dfe5;left:1480.5px;top:2502px;line-height:26px;font-size:22px;color:#2f2e30;letter-spacing:0.43px">Maienweg 1, Mauren</span>
<span style="left:155.3px;top:2557px;line-height:26px;font-size:22px;color:#242021;letter-spacing:0.35px">Abbruch Wohnhaus /</span>
<span style="left:155.9px;top:2589px;line-height:26px;font-size:22px;color:#242021;letter-spacing:0.18px">Neubau EFH mit Wohnung</span>
<span style="-webkit-text-stroke:0.3px #d7eef0;left:660.3px;top:2557px;line-height:26px;font-size:22px;color:#2f2e30;letter-spacing:-0.34px">Rüttegasse 7, Schaanwald</span>
</section>
</main>
</body></html>
